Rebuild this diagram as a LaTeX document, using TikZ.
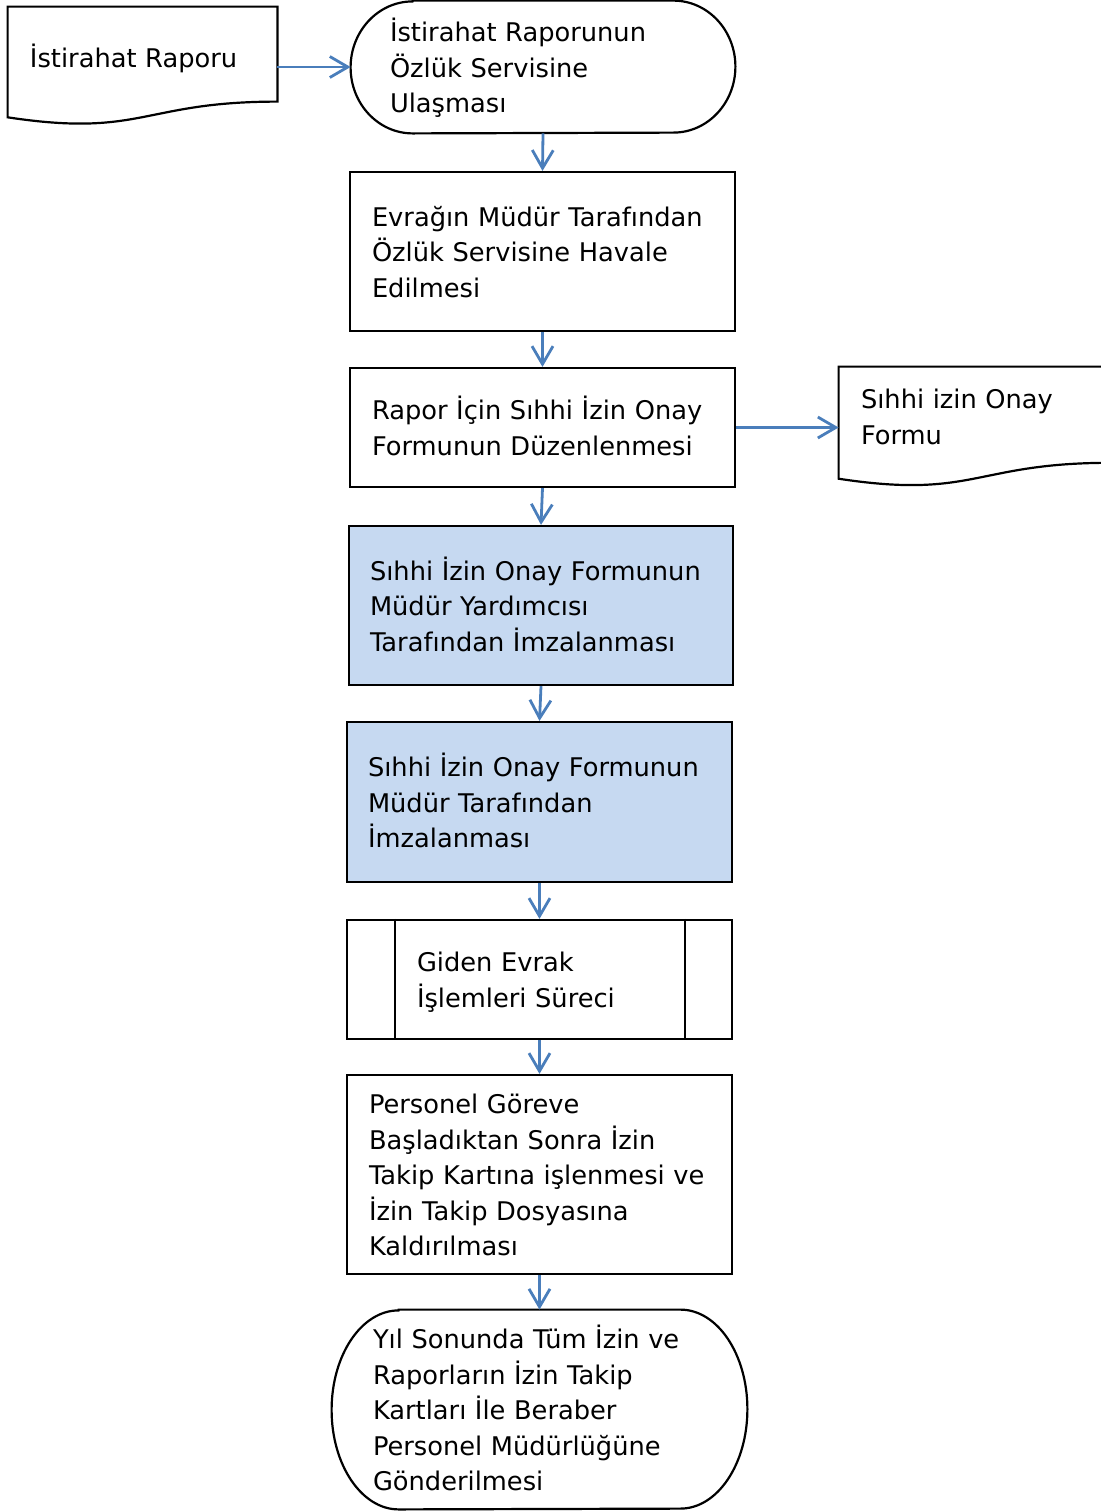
\documentclass[tikz,border=0pt]{standalone}
\usepackage{fontspec}
\setmainfont{DejaVu Sans}
\usetikzlibrary{arrows.meta,calc}
\definecolor{flowblue}{HTML}{4A7EBB}
\definecolor{shadefill}{HTML}{C6D9F1}
\newcommand{\txtlines}[1]{\raisebox{-1.5pt}[\height][\depth]{\begin{tabular}{@{}l@{}}#1\end{tabular}}}
\begin{document}
\begin{tikzpicture}[x=0.5pt,y=-0.5pt,
  every node/.style={font=\fontsize{12.85pt}{17.75pt}\selectfont},
  outline/.style={draw=black, line width=1.1pt},
  procbox/.style={outline, rectangle, inner ysep=0pt, align=left},
  ghost/.style={rectangle, inner ysep=0pt, align=left},
  shaded/.style={fill=shadefill},
  flow/.style={draw=flowblue, line width=1.4pt, -{Straight Barb[length=9pt,width=10.5pt]}}
]
\useasboundingbox (0,0) rectangle (1101,1511);

% Document 1
\node[ghost, minimum width=134.5pt, minimum height=50pt, text width=112.5pt, inner xsep=11pt] (d1) at (142.5,57)
  {\txtlines{İstirahat Raporu}};
\draw[outline] (d1.north west) -- (d1.north east) -- ($(d1.north east)+(0,95)$)
  .. controls ($(d1.north)+(0,95)$) and ($(d1.north)+(0,131.2)$) .. ($(d1.north west)+(0,110.7)$) -- cycle;

% Terminator 1
\node[ghost, minimum width=192pt, minimum height=66pt, text width=153pt, inner xsep=19.5pt] (t1) at (543,67)
  {\txtlines{İstirahat Raporunun\\Özlük Servisine\\Ulaşması}};
\draw[outline] ($(t1.north west)+(62,0)$) -- ($(t1.north east)+(-62,0)$)
  arc[start angle=-90, end angle=90, x radius=62, y radius=66]
  -- ($(t1.south west)+(62,0)$)
  arc[start angle=90, end angle=270, x radius=62, y radius=66] -- cycle;

% Box 2
\node[procbox, minimum width=192.5pt, minimum height=79.5pt, text width=170.5pt, inner xsep=11pt] (b2) at (542.5,251.5)
  {\txtlines{Evrağın Müdür Tarafından\\Özlük Servisine Havale\\Edilmesi}};

% Box 3
\node[procbox, minimum width=192.5pt, minimum height=59.5pt, text width=170.5pt, inner xsep=11pt] (b3) at (542.5,427.5)
  {\txtlines{Rapor İçin Sıhhi İzin Onay\\Formunun Düzenlenmesi}};

% Document 2
\node[ghost, minimum width=135.5pt, minimum height=49.5pt, text width=113.5pt, inner xsep=11pt] (d2) at (974.5,416.5)
  {\txtlines{Sıhhi izin Onay\\Formu}};
\draw[outline] (d2.north west) -- (d2.north east) -- ($(d2.north east)+(0,96.2)$)
  .. controls ($(d2.north)+(0,96.2)$) and ($(d2.north)+(0,132.9)$) .. ($(d2.north west)+(0,112.1)$) -- cycle;

% Box 4
\node[procbox, shaded, minimum width=192pt, minimum height=79.5pt, text width=171pt, inner xsep=10.5pt] (b4) at (541,605.5)
  {\txtlines{Sıhhi İzin Onay Formunun\\Müdür Yardımcısı\\Tarafından İmzalanması}};

% Box 5
\node[procbox, shaded, minimum width=192.5pt, minimum height=80pt, text width=171.5pt, inner xsep=10.5pt] (b5) at (539.5,802)
  {\txtlines{Sıhhi İzin Onay Formunun\\Müdür Tarafından\\İmzalanması}};

% Box 6 (predefined process)
\node[procbox, minimum width=192.5pt, minimum height=59.5pt, text width=122.5pt, inner xsep=35pt] (b6) at (539.5,979.5)
  {\txtlines{Giden Evrak\\İşlemleri Süreci}};
\draw[outline] ($(b6.north west)+(49,0)$) -- ($(b6.south west)+(49,0)$);
\draw[outline] ($(b6.north east)+(-48,0)$) -- ($(b6.south east)+(-48,0)$);

% Box 7
\node[procbox, minimum width=192.5pt, minimum height=99.5pt, text width=170.5pt, inner xsep=11pt] (b7) at (539.5,1174.5)
  {\txtlines{Personel Göreve\\Başladıktan Sonra İzin\\Takip Kartına işlenmesi ve\\İzin Takip Dosyasına\\Kaldırılması}};

% Terminator 2
\node[ghost, minimum width=207.5pt, minimum height=99.5pt, text width=166.5pt, inner xsep=20.5pt] (t2) at (539.5,1409.5)
  {\txtlines{Yıl Sonunda Tüm İzin ve\\Raporların İzin Takip\\Kartları İle Beraber\\Personel Müdürlüğüne\\Gönderilmesi}};
\draw[outline] ($(t2.north west)+(67,0)$) -- ($(t2.north east)+(-67,0)$)
  arc[start angle=-90, end angle=90, x radius=67, y radius=99.5]
  -- ($(t2.south west)+(67,0)$)
  arc[start angle=90, end angle=270, x radius=67, y radius=99.5] -- cycle;

% Connectors
\draw[flow] (d1.east |- t1.west) -- (t1.west);
\draw[flow] (t1.south) -- (b2.north);
\draw[flow] (b2.south) -- (b3.north);
\draw[flow] (b3.east) -- (b3.east -| d2.west);
\draw[flow] (b3.south) -- (b4.north);
\draw[flow] (b4.south) -- (b5.north);
\draw[flow] (b5.south) -- (b6.north);
\draw[flow] (b6.south) -- (b7.north);
\draw[flow] (b7.south) -- (t2.north);
\end{tikzpicture}
\end{document}
